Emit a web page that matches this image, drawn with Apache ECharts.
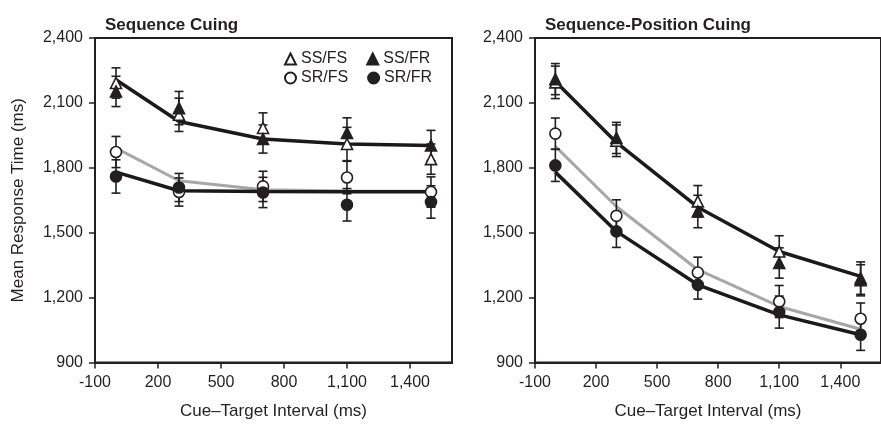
<!DOCTYPE html>
<html>
<head>
<meta charset="utf-8">
<script src="https://cdn.jsdelivr.net/npm/echarts@6/dist/echarts.min.js"></script>
<style>
html,body{margin:0;padding:0;background:#fff;}
#c{width:881px;height:425px;}
</style>
</head>
<body>
<div id="c"></div>
<script>
// ---- data ----
const ctis = [0, 300, 700, 1100, 1500];
const xTicks = [-100, 200, 500, 800, 1100, 1400];
const yTicks = [900, 1200, 1500, 1800, 2100, 2400];
const panelTitles = ['Sequence Cuing', 'Sequence-Position Cuing'];
const legendNames = ['SS/FS', 'SS/FR', 'SR/FS', 'SR/FR'];
const xAxisTitle = 'Cue\u2013Target Interval (ms)';
const yAxisTitle = 'Mean Response Time (ms)';

// Sequence cuing (left)
const seqSSFS = [2192, 2045, 1984, 1910, 1840];
const seqSSFSErr = [70, 77, 70, 77, 70];
const seqSSFR = [2153, 2076, 1933, 1961, 1903];
const seqSSFRErr = [70, 77, 65, 70, 70];
const seqSRFS = [1873, 1688, 1714, 1755, 1688];
const seqSRFSErr = [72, 65, 70, 75, 70];
const seqSRFR = [1760, 1709, 1686, 1629, 1642];
const seqSRFRErr = [77, 65, 70, 75, 75];
const seqFitSS = [2207, 2014, 1933, 1910, 1903];
const seqFitSRFS = [1891, 1740, 1699, 1693, 1692];
const seqFitSRFR = [1780, 1694, 1690, 1689, 1689];

// Sequence-position cuing (right)
const posSSFS = [2195, 1925, 1645, 1413, 1290];
const posSSFSErr = [75, 73, 73, 73, 75];
const posSSFR = [2210, 1938, 1598, 1360, 1280];
const posSSFRErr = [72, 72, 75, 70, 72];
const posSRFS = [1958, 1578, 1316, 1182, 1102];
const posSRFSErr = [72, 74, 71, 74, 73];
const posSRFR = [1811, 1506, 1259, 1133, 1028];
const posSRFRErr = [74, 74, 66, 74, 72];
const posFitSS = [2199, 1917, 1618, 1413, 1298];
const posFitSRFS = [1899, 1621, 1329, 1159, 1054];
const posFitSRFR = [1780, 1506, 1259, 1120, 1028];

// ---- chart ----
const FONT = '"Liberation Sans", Arial, Helvetica, sans-serif';
const INK = '#231f20';
const fmt = v => Number(v).toLocaleString('en-US');
const pts = arr => ctis.map((x, i) => [x, arr[i]]);
const errPts = (arr, err) => ctis.map((x, i) => [x, arr[i], err[i]]);

function errSeries(idx, arr, err) {
  return {
    type: 'custom', xAxisIndex: idx, yAxisIndex: idx, z: 3, silent: true,
    clip: false,
    encode: { x: 0, y: [1] },
    data: errPts(arr, err),
    renderItem: function (params, api) {
      const x = api.value(0), y = api.value(1), e = api.value(2);
      const t = api.coord([x, y + e]);
      const b = api.coord([x, y - e]);
      const hw = 4.5;
      const st = { stroke: INK, lineWidth: 1.6 };
      return {
        type: 'group', children: [
          { type: 'line', shape: { x1: t[0], y1: t[1], x2: b[0], y2: b[1] }, style: st },
          { type: 'line', shape: { x1: t[0] - hw, y1: t[1], x2: t[0] + hw, y2: t[1] }, style: st },
          { type: 'line', shape: { x1: b[0] - hw, y1: b[1], x2: b[0] + hw, y2: b[1] }, style: st }
        ]
      };
    }
  };
}
function lineSeries(idx, name, arr, color, w) {
  return {
    type: 'line', name: name, xAxisIndex: idx, yAxisIndex: idx, z: 2, silent: true,
    data: pts(arr), showSymbol: false, symbol: 'none',
    lineStyle: { color: color, width: w }, animation: false
  };
}
function markSeries(idx, name, arr, symbol, filled, size) {
  return {
    type: 'scatter', name: name, xAxisIndex: idx, yAxisIndex: idx,
    z: filled ? 5 : 4, symbol: symbol, symbolSize: size, data: pts(arr),
    itemStyle: { color: filled ? INK : '#ffffff', borderColor: INK, borderWidth: 1.6, opacity: 1 },
    animation: false
  };
}

function xAxis(idx) {
  return {
    type: 'value', gridIndex: idx, min: -100, max: 1600,
    name: xAxisTitle, nameLocation: 'middle', nameGap: 40,
    nameTextStyle: { fontFamily: FONT, fontSize: 17, color: INK },
    axisLine: { show: true, onZero: false, lineStyle: { color: INK, width: 2 } },
    axisTick: { show: true, length: 6, customValues: xTicks, lineStyle: { color: INK, width: 1.5 } },
    axisLabel: { customValues: xTicks, formatter: fmt, margin: 12, fontFamily: FONT, fontSize: 16, color: INK },
    splitLine: { show: false }
  };
}
function yAxis(idx) {
  return {
    type: 'value', gridIndex: idx, min: 900, max: 2400, interval: 300,
    name: idx === 0 ? yAxisTitle : '', nameLocation: 'middle', nameGap: 68,
    nameTextStyle: { fontFamily: FONT, fontSize: 17, color: INK },
    axisLine: { show: true, onZero: false, lineStyle: { color: INK, width: 2 } },
    axisTick: { show: true, length: 6, customValues: yTicks, lineStyle: { color: INK, width: 1.5 } },
    axisLabel: { customValues: yTicks, formatter: fmt, margin: 12, fontFamily: FONT, fontSize: 16, color: INK },
    splitLine: { show: false }
  };
}

const series = [
  lineSeries(0, 'fitSS0', seqFitSS, '#1a1a1a', 3.5),
  lineSeries(0, 'fitSRFS0', seqFitSRFS, '#a7a7a7', 3),
  lineSeries(0, 'fitSRFR0', seqFitSRFR, '#1a1a1a', 3.5),
  errSeries(0, seqSSFS, seqSSFSErr),
  errSeries(0, seqSSFR, seqSSFRErr),
  errSeries(0, seqSRFS, seqSRFSErr),
  errSeries(0, seqSRFR, seqSRFRErr),
  markSeries(0, legendNames[0], seqSSFS, 'triangle', false, [11, 11]),
  markSeries(0, legendNames[2], seqSRFS, 'circle', false, 11),
  markSeries(0, legendNames[1], seqSSFR, 'triangle', true, [11, 11]),
  markSeries(0, legendNames[3], seqSRFR, 'circle', true, 11),

  lineSeries(1, 'fitSS1', posFitSS, '#1a1a1a', 3.5),
  lineSeries(1, 'fitSRFS1', posFitSRFS, '#a7a7a7', 3),
  lineSeries(1, 'fitSRFR1', posFitSRFR, '#1a1a1a', 3.5),
  errSeries(1, posSSFS, posSSFSErr),
  errSeries(1, posSSFR, posSSFRErr),
  errSeries(1, posSRFS, posSRFSErr),
  errSeries(1, posSRFR, posSRFRErr),
  markSeries(1, legendNames[0], posSSFS, 'triangle', false, [11, 11]),
  markSeries(1, legendNames[2], posSRFS, 'circle', false, 11),
  markSeries(1, legendNames[1], posSSFR, 'triangle', true, [11, 11]),
  markSeries(1, legendNames[3], posSRFR, 'circle', true, 11)
];

const legendText = { fontFamily: FONT, fontSize: 16, color: INK };
const option = {
  animation: false,
  backgroundColor: '#ffffff',
  title: [
    { text: panelTitles[0], left: 100, top: 12, textStyle: { fontFamily: FONT, fontSize: 17, fontWeight: 'bold', color: INK } },
    { text: panelTitles[1], left: 540, top: 12, textStyle: { fontFamily: FONT, fontSize: 17, fontWeight: 'bold', color: INK } }
  ],
  legend: [
    { data: [legendNames[0], legendNames[1]], left: 284, top: 51, itemWidth: 11, itemHeight: 11, itemGap: 19,
      selectedMode: false, textStyle: legendText, padding: 0 },
    { data: [legendNames[2], legendNames[3]], left: 284, top: 70, itemWidth: 11, itemHeight: 11, itemGap: 19,
      selectedMode: false, textStyle: legendText, padding: 0 }
  ],
  grid: [
    { left: 95, top: 38, width: 357, height: 324.5, show: true, borderColor: INK, borderWidth: 2, backgroundColor: 'transparent' },
    { left: 535, top: 38, width: 357, height: 324.5, show: true, borderColor: INK, borderWidth: 2, backgroundColor: 'transparent' }
  ],
  xAxis: [xAxis(0), xAxis(1)],
  yAxis: [yAxis(0), yAxis(1)],
  series: series
};
const chart = echarts.init(document.getElementById('c'), null, { renderer: 'canvas' });
chart.setOption(option);
</script>
</body>
</html>
